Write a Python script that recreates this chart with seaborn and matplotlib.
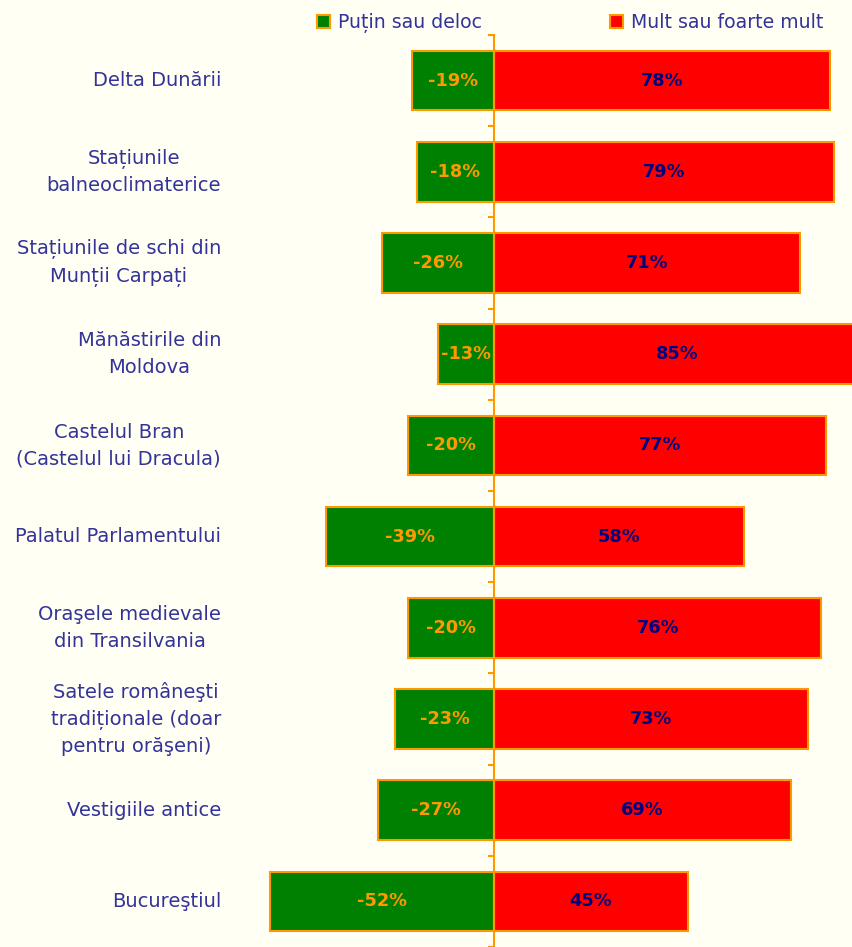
import seaborn as sns
import matplotlib.pyplot as plt
import matplotlib.transforms as mtransforms
from matplotlib.patches import Patch
import numpy as np

# data
categories = [
    "Delta Dunării",
    "Stațiunile\nbalneoclimaterice",
    "Stațiunile de schi din\nMunții Carpați",
    "Mănăstirile din\nMoldova",
    "Castelul Bran\n(Castelul lui Dracula)",
    "Palatul Parlamentului",
    "Oraşele medievale\ndin Transilvania",
    "Satele româneşti\ntradiționale (doar\npentru orăşeni)",
    "Vestigiile antice",
    "Bucureştiul",
]
putin = [-19, -18, -26, -13, -20, -39, -20, -23, -27, -52]
mult = [78, 79, 71, 85, 77, 58, 76, 73, 69, 45]
series_names = ["Puțin sau deloc", "Mult sau foarte mult"]

bg = "#FFFFF4"
green = "#008000"
red = "#FF0000"
orange = "#FF9900"
navy = "#000080"
label_col = "#333399"

sns.set_theme(style="white")
plt.rcParams["font.family"] = ["DejaVu Sans"]

fig = plt.figure(figsize=(8.52, 9.47), dpi=100, facecolor=bg)
ax = fig.add_axes([0, 0, 1, 912 / 947])
ax.set_facecolor(bg)

ypos = np.arange(len(categories))
sns.barplot(x=putin, y=ypos, orient="h", color=green, saturation=1, width=0.654,
            edgecolor=orange, linewidth=1.5, ax=ax, native_scale=True)
sns.barplot(x=mult, y=ypos, orient="h", color=red, saturation=1, width=0.654,
            edgecolor=orange, linewidth=1.5, ax=ax, native_scale=True)

ax.set_xlim(-114.7, 83.1)
ax.set_ylim(9.436, -0.5)

# value labels
for i, (n, p) in enumerate(zip(putin, mult)):
    ax.text(n / 2, i, f"{n}%", ha="center", va="center", color=orange,
            fontsize=12.8, fontweight="bold")
    ax.text(p / 2, i, f"{p}%", ha="center", va="center", color=navy,
            fontsize=12.8, fontweight="bold")

# category labels: right-aligned block, lines centred inside it
trans = mtransforms.blended_transform_factory(ax.transAxes, ax.transData)
for i, c in enumerate(categories):
    ax.text(221 / 852, i, c, transform=trans, ha="right", va="center",
            multialignment="center", color=label_col, fontsize=14, linespacing=1.5)

# central axis
for s in ["top", "right", "bottom"]:
    ax.spines[s].set_visible(False)
ax.spines["left"].set_position(("data", 0))
ax.spines["left"].set_color(orange)
ax.spines["left"].set_linewidth(1.5)
ax.set_xticks([])
ax.set_yticks([])
ax.set_yticks(np.arange(len(categories) + 1) - 0.5, minor=True)
ax.tick_params(axis="y", which="minor", left=True, length=4, width=1.5,
               color=orange, labelleft=False)
ax.set_xlabel("")
ax.set_ylabel("")

handles = [Patch(facecolor=green, edgecolor=orange, linewidth=1.5),
           Patch(facecolor=red, edgecolor=orange, linewidth=1.5)]
fig.legend(handles, series_names, loc="upper center", bbox_to_anchor=(570 / 852, 1.004),
           ncol=2, frameon=False, fontsize=13.6, labelcolor=label_col,
           handlelength=0.7, handleheight=0.7, handletextpad=0.4, columnspacing=6.8)

fig.savefig("out.png", dpi=100, facecolor=bg)
